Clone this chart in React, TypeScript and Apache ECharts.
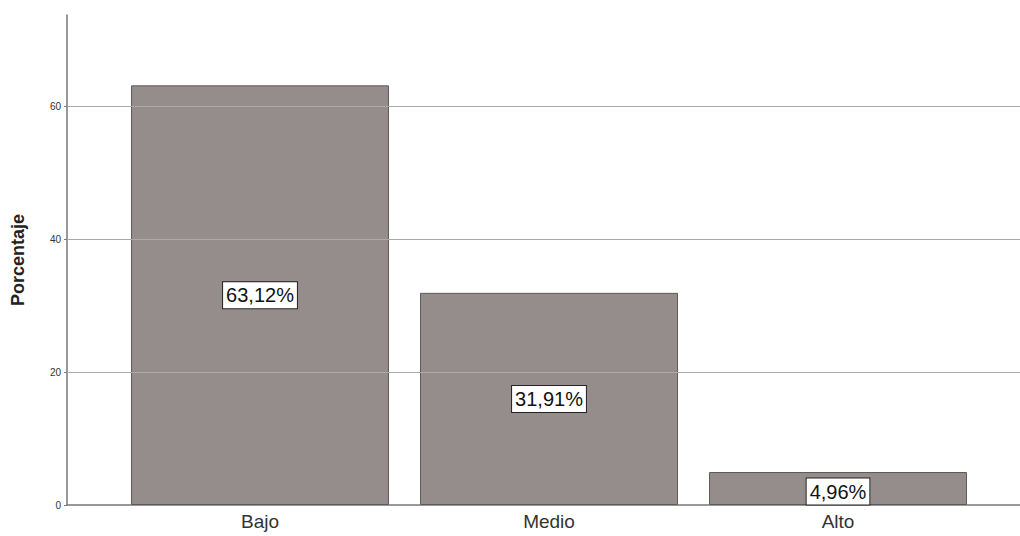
import React, { useEffect, useRef } from "react";
import * as echarts from "echarts";

const categories = ["Bajo", "Medio", "Alto"];
const values = [63.12, 31.91, 4.96];
const labels = ["63,12%", "31,91%", "4,96%"];
const gridValues = [20, 40, 60];

export default function App() {
  const ref = useRef<HTMLDivElement>(null);
  useEffect(() => {
    document.body.style.margin = "0";
    const chart = echarts.init(ref.current!, null, { renderer: "svg" });
    const yMax = 73.7;
    const font = "Liberation Sans, Arial, sans-serif";
    chart.setOption({
      animation: false,
      backgroundColor: "#ffffff",
      grid: [
        { left: 67, right: 0, top: 15, bottom: 31 },
        { left: 115.5, right: 37.5, top: 15, bottom: 31 },
      ],
      xAxis: [
        {
          gridIndex: 0,
          type: "value",
          min: 0,
          max: 1,
          axisLine: { show: true, onZero: false, lineStyle: { color: "#777", width: 1.5 } },
          axisTick: { show: false },
          axisLabel: { show: false },
          splitLine: { show: false },
        },
        {
          gridIndex: 1,
          type: "category",
          data: categories,
          axisLine: { show: false },
          axisTick: { show: false },
          axisLabel: { color: "#333", fontSize: 19, fontFamily: font, margin: 7 },
        },
      ],
      yAxis: [
        {
          gridIndex: 0,
          type: "value",
          min: 0,
          max: yMax,
          interval: 20,
          name: "Porcentaje",
          nameLocation: "middle",
          nameGap: 40,
          nameTextStyle: { fontSize: 18, fontWeight: "bold", color: "#222", fontFamily: font },
          axisLine: { show: true, lineStyle: { color: "#777", width: 1.5 } },
          axisTick: { show: true, length: 3, lineStyle: { color: "#777" } },
          axisLabel: {
            color: "#333",
            fontSize: 10,
            fontFamily: font,
            margin: 6,
            showMaxLabel: false,
          },
          splitLine: { show: false },
        },
        {
          gridIndex: 1,
          type: "value",
          min: 0,
          max: yMax,
          show: false,
          splitLine: { show: false },
        },
      ],
      series: [
        {
          type: "line",
          xAxisIndex: 0,
          yAxisIndex: 0,
          data: [[0, 0]],
          showSymbol: false,
          symbol: "none",
          lineStyle: { opacity: 0 },
          silent: true,
          z: 1,
          markLine: {
            silent: true,
            symbol: "none",
            label: { show: false },
            lineStyle: { color: "#aaaaaa", type: "solid", width: 1 },
            data: gridValues.map((v) => ({ yAxis: v })),
          },
        },
        {
          type: "bar",
          xAxisIndex: 1,
          yAxisIndex: 1,
          z: 3,
          data: values.map((v, i) =>
            i === 2 ? { value: v, label: { offset: [0, 3] } } : v
          ),
          barWidth: 258,
          itemStyle: { color: "#958c8c", borderColor: "#5e5a5a", borderWidth: 1 },
          label: {
            show: true,
            position: "inside",
            formatter: (p: any) => labels[p.dataIndex],
            color: "#111",
            fontSize: 20,
            fontFamily: font,
            backgroundColor: "#ffffff",
            borderColor: "#222",
            borderWidth: 1,
            padding: [4, 3, 2, 3],
          },
        },
      ],
    });
    return () => chart.dispose();
  }, []);
  return <div ref={ref} style={{ width: 1020, height: 536 }} />;
}
